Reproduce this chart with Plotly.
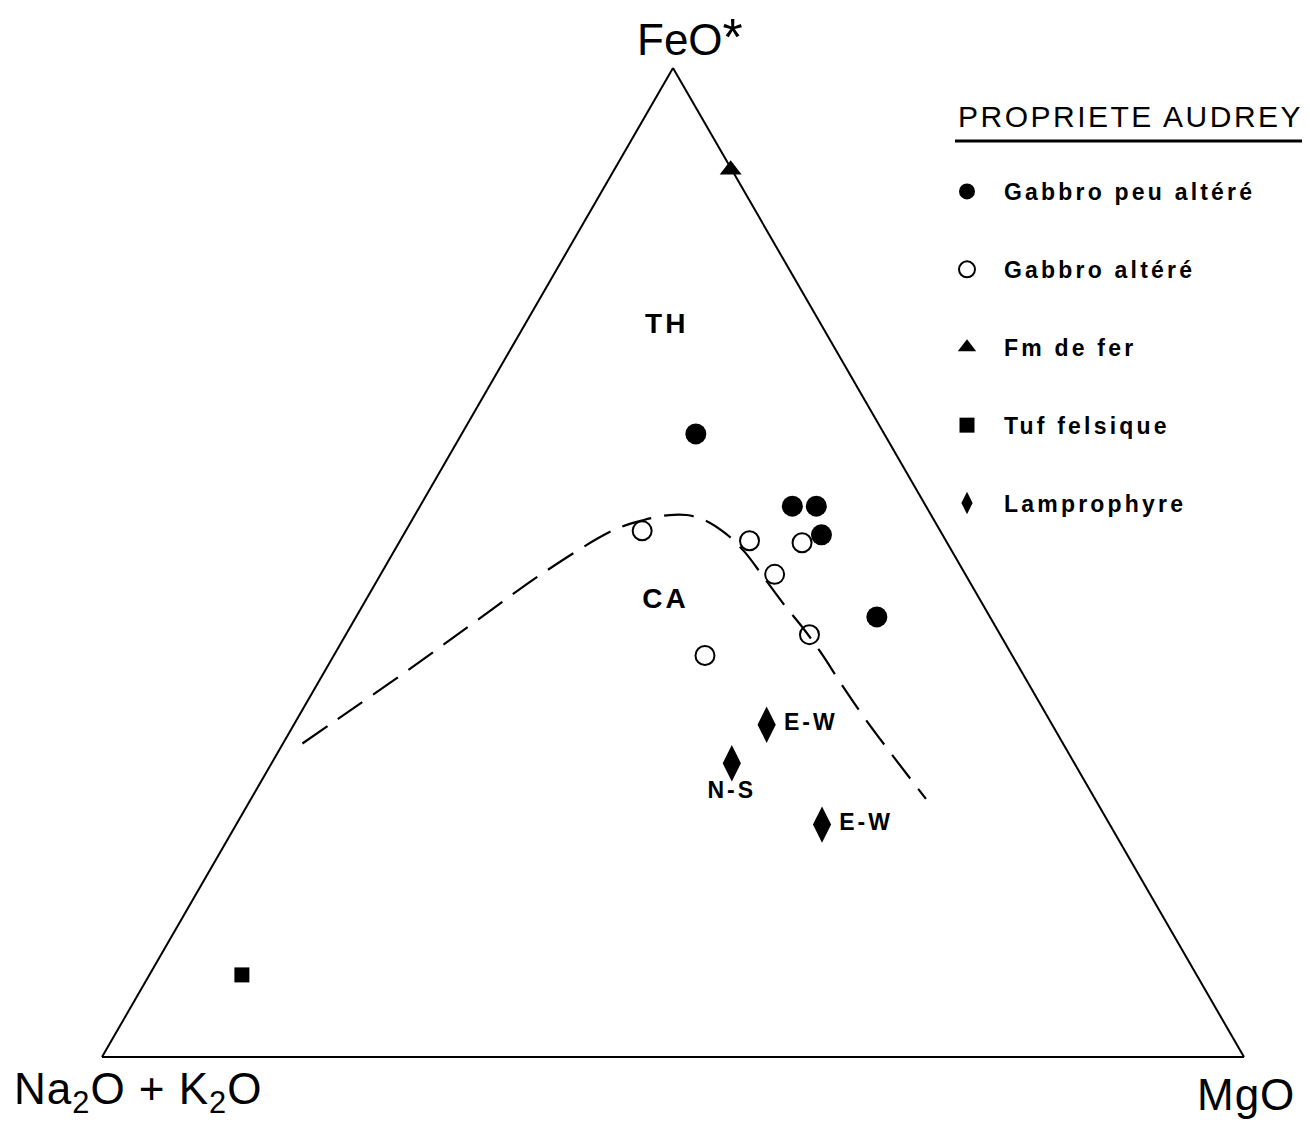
import plotly.graph_objects as go

# ---- data (fractions: FeO*, Na2O+K2O, MgO) ----
gpa_feo = [0.630, 0.557, 0.557, 0.528, 0.445]
gpa_alk = [0.165, 0.117, 0.096, 0.106, 0.099]
gpa_mgo = [0.205, 0.326, 0.347, 0.366, 0.456]

ga_feo = [0.532, 0.522, 0.520, 0.488, 0.427, 0.406]
ga_alk = [0.261, 0.172, 0.127, 0.167, 0.167, 0.269]
ga_mgo = [0.207, 0.306, 0.353, 0.345, 0.406, 0.325]

fer_feo = [0.897]
fer_alk = [0.001]
fer_mgo = [0.102]

tuf_feo = [0.083]
tuf_alk = [0.836]
tuf_mgo = [0.081]

lam_feo = [0.336, 0.297, 0.235]
lam_alk = [0.250, 0.300, 0.252]
lam_mgo = [0.414, 0.403, 0.513]
lam_labels = ["E-W", "N-S", "E-W"]

# TH / CA boundary (dashed)
bd_feo = [0.317, 0.341, 0.392, 0.442, 0.490, 0.533, 0.543, 0.548, 0.548, 0.543,
          0.529, 0.511, 0.485, 0.457, 0.432, 0.408, 0.376, 0.344, 0.303, 0.261]
bd_alk = [0.666, 0.624, 0.535, 0.450, 0.368, 0.285, 0.254, 0.229, 0.214, 0.201,
          0.189, 0.182, 0.178, 0.174, 0.169, 0.166, 0.164, 0.161, 0.155, 0.148]
bd_mgo = [0.017, 0.035, 0.073, 0.108, 0.142, 0.182, 0.203, 0.223, 0.238, 0.256,
          0.282, 0.307, 0.337, 0.369, 0.399, 0.426, 0.460, 0.495, 0.542, 0.591]

region_labels = ["TH", "CA"]
region_feo = [0.739, 0.461]
region_alk = [0.136, 0.276]
region_mgo = [0.125, 0.263]

legend_names = ["Gabbro peu altéré", "Gabbro altéré", "Fm de fer", "Tuf felsique", "Lamprophyre"]

FONT = "Liberation Sans, Arial, sans-serif"
W, H = 1310, 1128
OFF = 8  # page body margin


def px(x):
    return (x - OFF) / W


def py(y):
    return 1 - (y - OFF) / H


def spaced(s, sp):
    return f"<span style='letter-spacing:{sp}px'>{s}</span>"


fig = go.Figure()

fig.add_trace(go.Scatterternary(
    a=bd_feo, b=bd_alk, c=bd_mgo, mode="lines",
    line=dict(color="black", width=2.2, dash="30px,13px", shape="spline"),
    showlegend=False, hoverinfo="skip", cliponaxis=False))

fig.add_trace(go.Scatterternary(
    a=gpa_feo, b=gpa_alk, c=gpa_mgo, mode="markers",
    name=spaced(legend_names[0], 3.2), legendgroup="g1",
    marker=dict(symbol="circle", size=21, color="black"), cliponaxis=False))

fig.add_trace(go.Scatterternary(
    a=ga_feo, b=ga_alk, c=ga_mgo, mode="markers",
    name=spaced(legend_names[1], 3.2), legendgroup="g2",
    marker=dict(symbol="circle-open", size=19, color="black", line=dict(width=2)),
    cliponaxis=False))

fig.add_trace(go.Scatterternary(
    a=fer_feo, b=fer_alk, c=fer_mgo, mode="markers",
    name=spaced(legend_names[2], 3.2), legendgroup="g3",
    marker=dict(symbol="triangle-up", size=19, color="black"), cliponaxis=False))

fig.add_trace(go.Scatterternary(
    a=tuf_feo, b=tuf_alk, c=tuf_mgo, mode="markers",
    name=spaced(legend_names[3], 3.2), legendgroup="g4",
    marker=dict(symbol="square", size=15, color="black"), cliponaxis=False))

fig.add_trace(go.Scatterternary(
    a=lam_feo, b=lam_alk, c=lam_mgo, mode="markers+text",
    name=spaced(legend_names[4], 3.2), legendgroup="g5",
    text=[spaced(t, 3) for t in lam_labels],
    textposition=["middle right", "bottom center", "middle right"],
    textfont=dict(family=FONT, size=23, color="black", weight="bold"),
    marker=dict(symbol="diamond-tall", size=26, color="black"), cliponaxis=False))

fig.add_trace(go.Scatterternary(
    a=region_feo, b=region_alk, c=region_mgo, mode="text",
    text=[spaced(t, 3) for t in region_labels],
    textfont=dict(family=FONT, size=28, color="black", weight="bold"),
    showlegend=False, hoverinfo="skip", cliponaxis=False))

axis_style = dict(showline=True, linecolor="black", linewidth=2, showgrid=False,
                  ticks="", showticklabels=False, title=dict(text=""), min=0)

fig.update_layout(
    width=W, height=H, autosize=False,
    margin=dict(l=0, r=0, t=0, b=0),
    paper_bgcolor="white", plot_bgcolor="white",
    font=dict(family=FONT, color="black"),
    ternary=dict(
        sum=1,
        domain=dict(x=[px(102), px(1244)], y=[py(1057), py(68)]),
        bgcolor="white",
        aaxis=axis_style, baxis=axis_style, caxis=axis_style,
    ),
    showlegend=True,
    legend=dict(
        x=px(930), y=py(170), xanchor="left", yanchor="top",
        font=dict(family=FONT, size=23, color="black", weight="bold"),
        itemwidth=64, tracegroupgap=45, bgcolor="rgba(0,0,0,0)",
    ),
    annotations=[
        dict(text="FeO<span style='font-size:52px'>*</span>", x=px(690), y=py(37),
             xref="paper", yref="paper", showarrow=False, xanchor="center", yanchor="middle",
             font=dict(family=FONT, size=44, color="black")),
        dict(text=spaced("Na<sub>2</sub>O + K<sub>2</sub>O", 1), x=px(138), y=py(1092),
             xref="paper", yref="paper", showarrow=False, xanchor="center", yanchor="middle",
             font=dict(family=FONT, size=44, color="black")),
        dict(text=spaced("MgO", 1), x=px(1246), y=py(1094),
             xref="paper", yref="paper", showarrow=False, xanchor="center", yanchor="middle",
             font=dict(family=FONT, size=44, color="black")),
        dict(text=spaced("PROPRIETE AUDREY", 2.5), x=px(956), y=py(117),
             xref="paper", yref="paper", showarrow=False, xanchor="left", yanchor="middle",
             font=dict(family=FONT, size=30, color="black")),
    ],
    shapes=[
        dict(type="line", xref="paper", yref="paper", x0=px(955), x1=px(1307),
             y0=py(141), y1=py(141), line=dict(color="black", width=3)),
    ],
)

fig.write_html("out.html")
